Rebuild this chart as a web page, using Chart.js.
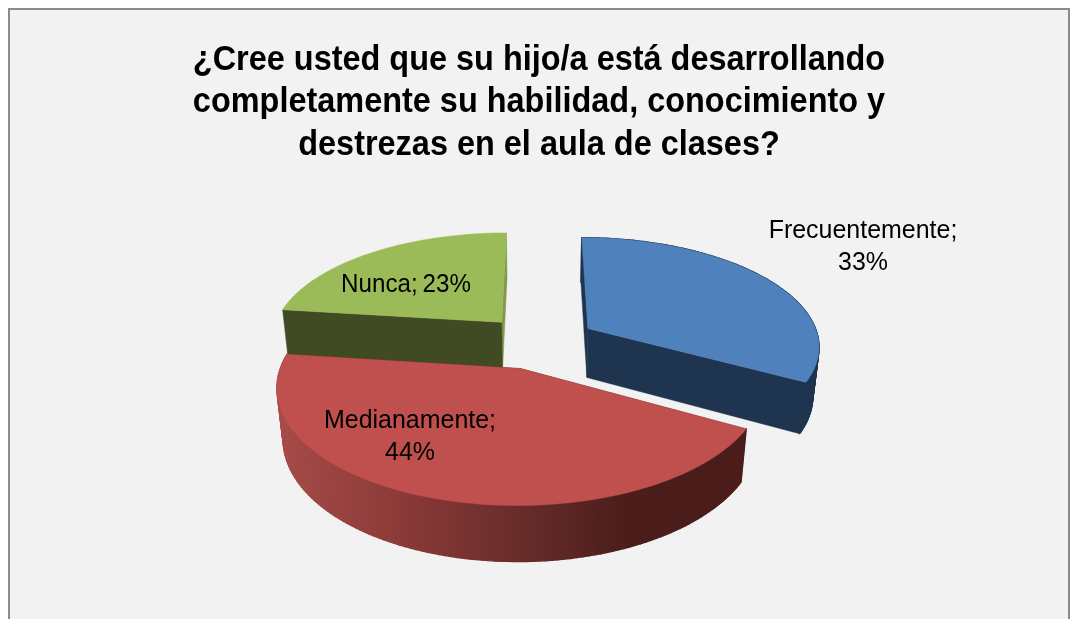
<!DOCTYPE html>
<html>
<head>
<meta charset="utf-8">
<style>
html,body{margin:0;padding:0;background:#fff;overflow:hidden;width:1071px;height:619px}
#frame{position:absolute;left:8px;top:8px;width:1058px;height:611px;border:2px solid #8c8c8c;border-bottom:none;background:#f2f2f2;overflow:hidden}
canvas{display:block}
</style>
<script src="https://cdn.jsdelivr.net/npm/chart.js@4"></script>
</head>
<body>
<div id="frame"><canvas id="c" width="1058" height="611"></canvas></div>
<script>
const titleLines = [
  "¿Cree usted que su hijo/a está desarrollando",
  "completamente su habilidad, conocimiento y",
  "destrezas en el aula de clases?"
];
const categories = ["Frecuentemente", "Medianamente", "Nunca"];
const values = [33, 44, 23];
const topColors = ["#4f81bd", "#c0504d", "#9bbb59"];
const startWallColors = ["#1f344f", "#4a1d1b", "#404b24"];
const endWallColors = ["#1f344f", "#4a1d1b", "#80994a"];
const drawOrder = [2, 0, 1];
const labelAnchors = [[853, 219], [400, 409], [396, 273]];

const camera = {uScale:0.317, zScale:2.02e-4, z0:1.3679e-3, lowY:2224, fBase:0.0219, fRef:718, fSlope:3e-5};
const titleSqueeze = 0.927, labelSqueeze = 0.96, shortLabelSqueeze = 0.93;

function project(arc, x, y){
  const u=(x-arc.x)/arc.outerRadius, v=(y-arc.y)/arc.outerRadius;
  const z=camera.z0-camera.zScale*v, s=1/z;
  return {x:arc.x+camera.uScale*u*s, y:arc.y+s-1/camera.z0, s};
}
function lower(arc,p){
  const f=camera.fBase+(p.s-camera.fRef)*camera.fSlope;
  const vx=arc.x, vy=arc.y+camera.lowY;
  return {x:p.x+(vx-p.x)*f, y:p.y+(vy-p.y)*f};
}
function poly(ctx,pts,fill,width){
  ctx.beginPath();
  pts.forEach((p,i)=>i?ctx.lineTo(p.x,p.y):ctx.moveTo(p.x,p.y));
  ctx.closePath();
  ctx.fillStyle=fill;ctx.fill();
  ctx.strokeStyle=fill;ctx.lineWidth=width||0.5;ctx.lineJoin='round';ctx.stroke();
}
const pie3d={
  id:'pie3d',
  beforeDraw(chart){
    const ctx=chart.ctx, cx=chart.width/2;
    ctx.save();
    ctx.translate(cx,0);ctx.scale(titleSqueeze,1);ctx.translate(-cx,0);
  },
  beforeDatasetsDraw(chart){
    const ctx=chart.ctx, arcs=chart.getDatasetMeta(0).data;
    ctx.restore();
    ctx.save();
    drawOrder.forEach(i=>{
      const a=arcs[i], mid=(a.startAngle+a.endAngle)/2, off=a.options.offset, R=a.outerRadius;
      const ox=a.x+off*Math.cos(mid), oy=a.y+off*Math.sin(mid);
      const N=120, rim=[];
      for(let k=0;k<=N;k++){
        const t=a.startAngle+(a.endAngle-a.startAngle)*k/N;
        rim.push(project(a,ox+R*Math.cos(t),oy+R*Math.sin(t)));
      }
      const apex=project(a,ox,oy);
      const first=rim[0], last=rim[N];
      let wall=startWallColors[i];
      if(i===1){
        const g=ctx.createLinearGradient(a.x-260,0,a.x+90,0);
        g.addColorStop(0,'#a64b48');g.addColorStop(0.35,'#8b3a38');g.addColorStop(0.7,'#672c2a');g.addColorStop(1,'#4a1d1b');
        wall=g;
      }
      if(i!==2){
        for(let k=0;k<N;k++){
          poly(ctx,[rim[k],rim[k+1],lower(a,rim[k+1]),lower(a,rim[k])],wall,1.4);
        }
      }
      poly(ctx,[last,apex,lower(a,apex),lower(a,last)],endWallColors[i]);
      poly(ctx,[first,apex,lower(a,apex),lower(a,first)],startWallColors[i]);
      poly(ctx,[apex].concat(rim),a.options.backgroundColor);
    });
    ctx.fillStyle='#000';
    ctx.textAlign='center';ctx.textBaseline='middle';
    ctx.font='26px "Liberation Sans"';
    categories.forEach((c,i)=>{
      const [x,y]=labelAnchors[i];
      ctx.save();
      ctx.translate(x,y+1.5);
      if(c.length>6){
        ctx.scale(labelSqueeze,1);
        ctx.fillText(c+';',0,0);
        ctx.fillText(values[i]+'%',0,32);
      } else {
        ctx.scale(shortLabelSqueeze,1);
        ctx.wordSpacing='-2px';
        ctx.fillText(c+'; '+values[i]+'%',0,0);
      }
      ctx.restore();
    });
    ctx.restore();
    ctx.save();
    return false;
  },
  afterDraw(chart){ chart.ctx.restore(); }
};
new Chart(document.getElementById('c'),{
  type:'pie',
  data:{labels:categories,datasets:[{data:values,backgroundColor:topColors,borderWidth:0,offset:40,radius:160}]},
  options:{
    responsive:false,animation:false,
    layout:{padding:{bottom:116.5}},
    plugins:{
      legend:{display:false},tooltip:{enabled:false},
      title:{display:true,text:titleLines,color:'#000',
        font:{family:'"Liberation Sans"',size:35,weight:'bold',lineHeight:1.214},
        padding:{top:29,bottom:13}}
    }
  },
  plugins:[pie3d]
});
</script>
</body>
</html>
